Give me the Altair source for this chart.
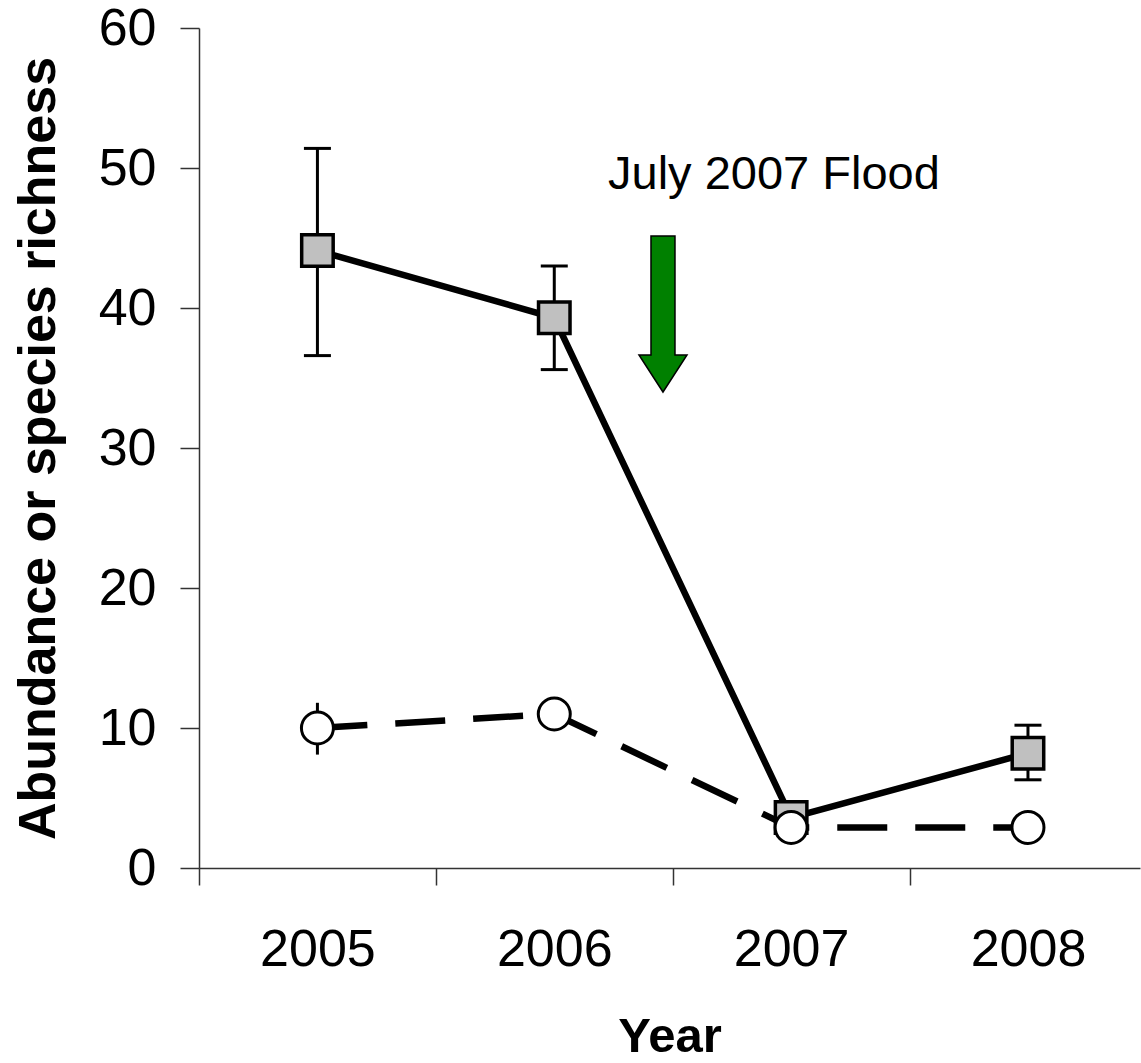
import altair as alt
import pandas as pd

# ---- data ----
years = [2005, 2006, 2007, 2008]
year_pos = [1, 2, 3, 4]
abundance = [44.1, 39.3, 3.6, 8.2]
abundance_low = [36.6, 35.6, 3.2, 6.3]
abundance_high = [51.4, 43.0, 4.0, 10.2]
richness = [10.0, 11.0, 2.9, 2.9]
richness_low = [8.1, 10.6, 2.6, 2.6]
richness_high = [11.8, 11.4, 3.2, 3.2]
boundary_ticks = [0.5, 1.5, 2.5, 3.5]
y_ticks = [0, 10, 20, 30, 40, 50, 60]

flood_label = ["July 2007 Flood"]
flood_label_x = [2.227]
flood_label_y = [48.5]
arrow_x = [2.459]
arrow_y = [39.57]

FONT = "Liberation Sans, Arial, Helvetica, sans-serif"
X_DOMAIN = [0.5, 4.473]
Y_DOMAIN = [0, 60]
AXIS_COLOR = "#333333"

df = pd.DataFrame({
    "year": years,
    "pos": year_pos,
    "abundance": abundance,
    "abundance_low": abundance_low,
    "abundance_high": abundance_high,
    "richness": richness,
    "richness_low": richness_low,
    "richness_high": richness_high,
})
arrow_df = pd.DataFrame({"x": arrow_x, "y": arrow_y})
label_df = pd.DataFrame({"x": flood_label_x, "y": flood_label_y, "text": flood_label})

xscale = alt.Scale(domain=X_DOMAIN, nice=False, zero=False)
yscale = alt.Scale(domain=Y_DOMAIN, nice=False, zero=False)

x_label_axis = alt.Axis(
    orient="bottom", values=year_pos, labelExpr="'' + (datum.value + 2004)",
    tickSize=0, domain=False, grid=False, labelFont=FONT, labelFontSize=52,
    labelColor="black", labelPadding=56, labelBaseline="top",
    title="Year", titleFont=FONT, titleFontSize=49, titleFontWeight="bold",
    titleColor="black", titlePadding=76, titleBaseline="alphabetic",
)
x_tick_axis = alt.Axis(
    orient="bottom", values=boundary_ticks, labels=False, tickSize=17,
    domain=True, grid=False, title=None,
)
y_axis = alt.Axis(
    orient="left", values=y_ticks, tickSize=19, grid=False, labelFont=FONT,
    labelFontSize=52, labelColor="black", labelPadding=24,
    title="Abundance or species richness", titleFont=FONT, titleFontSize=52,
    titleFontWeight="bold", titleColor="black", titlePadding=33,
)

def X(field, axis=None):
    return alt.X(f"{field}:Q", scale=xscale, axis=axis)

def Y(field, axis=None):
    return alt.Y(f"{field}:Q", scale=yscale, axis=axis)

base = alt.Chart(df)

solid_line = base.mark_line(color="black", strokeWidth=6.5).encode(
    x=X("pos", x_label_axis), y=Y("abundance", y_axis)
)
sq_err = base.mark_rule(color="black", strokeWidth=3, opacity=1).encode(
    x=X("pos", x_tick_axis), y=Y("abundance_low"), y2="abundance_high:Q"
)
sq_cap_low = base.mark_tick(color="black", orient="horizontal", size=27, thickness=3, opacity=1).encode(
    x=X("pos"), y=Y("abundance_low")
)
sq_cap_high = base.mark_tick(color="black", orient="horizontal", size=27, thickness=3, opacity=1).encode(
    x=X("pos"), y=Y("abundance_high")
)
squares = base.mark_point(
    shape="square", size=992, filled=True, fill="#c0c0c0", stroke="black",
    strokeWidth=3.5, opacity=1
).encode(x=X("pos"), y=Y("abundance"))

dashed_line = base.mark_line(color="black", strokeWidth=6.5, strokeDash=[50, 28], strokeCap="butt").encode(
    x=X("pos"), y=Y("richness")
)
circ_err = base.mark_rule(color="black", strokeWidth=3, opacity=1).encode(
    x=X("pos"), y=Y("richness_low"), y2="richness_high:Q"
)
circles = base.mark_point(
    shape="circle", size=1024, filled=True, fill="white", stroke="black",
    strokeWidth=3, opacity=1
).encode(x=X("pos"), y=Y("richness"))

arrow_path = "M-0.1538,-1L0.1538,-1L0.1538,0.5256L0.3077,0.5256L0,1L-0.3077,0.5256L-0.1538,0.5256Z"
arrow = alt.Chart(arrow_df).mark_point(
    shape=arrow_path, size=24336, filled=True, fill="#008000", stroke="black",
    strokeWidth=1.5, opacity=1
).encode(x=X("x"), y=Y("y"))

label = alt.Chart(label_df).mark_text(
    align="left", baseline="alphabetic", font=FONT, fontSize=47, color="black"
).encode(x=X("x"), y=Y("y"), text="text:N")

chart = alt.layer(
    solid_line, sq_err, sq_cap_low, sq_cap_high, squares,
    dashed_line, circ_err, circles, arrow, label
).resolve_axis(x="independent", y="independent").properties(
    width=941, height=840,
    autosize=alt.AutoSizeParams(type="none"),
    padding={"left": 199, "top": 28, "right": 1, "bottom": 195},
).configure_view(stroke=None).configure_axis(
    domainColor=AXIS_COLOR, tickColor=AXIS_COLOR, domainWidth=1.5, tickWidth=1.5
)

chart.save("out.html", embed_options={"renderer": "svg", "actions": False})
